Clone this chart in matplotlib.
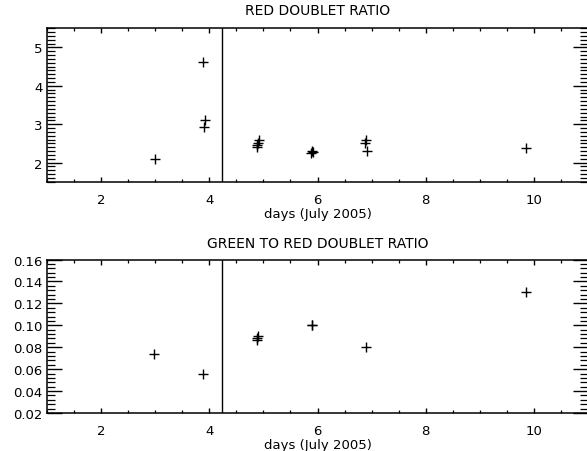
import matplotlib.pyplot as plt
from matplotlib.ticker import MultipleLocator, FormatStrFormatter

# red doublet ratio vs day
red_days = [2.99, 3.88, 3.92, 3.90, 4.88, 4.90, 4.92, 4.89, 5.88, 5.90, 5.91,
            6.90, 6.88, 6.92, 9.86]
red_ratio = [2.10, 4.62, 3.10, 2.92, 2.40, 2.50, 2.60, 2.45, 2.25, 2.30, 2.28,
             2.60, 2.52, 2.30, 2.38]

# green to red doublet ratio vs day
green_days = [2.98, 3.89, 4.88, 4.90, 4.89, 5.89, 5.90, 6.90, 9.86]
green_ratio = [0.074, 0.056, 0.088, 0.090, 0.087, 0.100, 0.100, 0.080, 0.130]

event_day = 4.23

plt.rcParams["font.family"] = "DejaVu Sans"
plt.rcParams["font.size"] = 9.5

fig = plt.figure(figsize=(5.87, 4.52), dpi=100)
ax1 = fig.add_axes([47 / 587, 1 - 182.7 / 452, 541 / 587, 153.4 / 452])
ax2 = fig.add_axes([47 / 587, 1 - 414 / 452, 541 / 587, 153.5 / 452])


def style(ax, ymaj, ymin, fmt):
    ax.set_xlim(1, 11)
    ax.xaxis.set_major_locator(MultipleLocator(2))
    ax.xaxis.set_minor_locator(MultipleLocator(0.5))
    ax.yaxis.set_major_locator(MultipleLocator(ymaj))
    ax.yaxis.set_minor_locator(MultipleLocator(ymin))
    ax.yaxis.set_major_formatter(FormatStrFormatter(fmt))
    ax.tick_params(axis="x", which="major", direction="in", length=3.5,
                   top=True, bottom=True, pad=8, width=1)
    ax.tick_params(axis="x", which="minor", direction="in", length=2,
                   top=True, bottom=True, width=0.9)
    ax.tick_params(axis="y", which="major", direction="in", length=11,
                   left=True, right=True, pad=3, width=1)
    ax.tick_params(axis="y", which="minor", direction="in", length=5.5,
                   left=True, right=True, width=0.9)
    ax.axvline(event_day, color="black", lw=1)
    ax.set_xlabel("days (July 2005)", labelpad=1)
    for s in ax.spines.values():
        s.set_linewidth(1.1)


ax1.plot(red_days, red_ratio, "k+", ms=7, mew=1)
ax1.set_ylim(1.5, 5.5)
style(ax1, 1, 0.1, "%d")
ax1.set_title("RED DOUBLET RATIO", fontsize=10, pad=10)

ax2.plot(green_days, green_ratio, "k+", ms=7, mew=1)
ax2.set_ylim(0.02, 0.16)
style(ax2, 0.02, 0.004, "%.2f")
ax2.set_title("GREEN TO RED DOUBLET RATIO", fontsize=10, pad=9)

fig.savefig("out.png", dpi=100)
